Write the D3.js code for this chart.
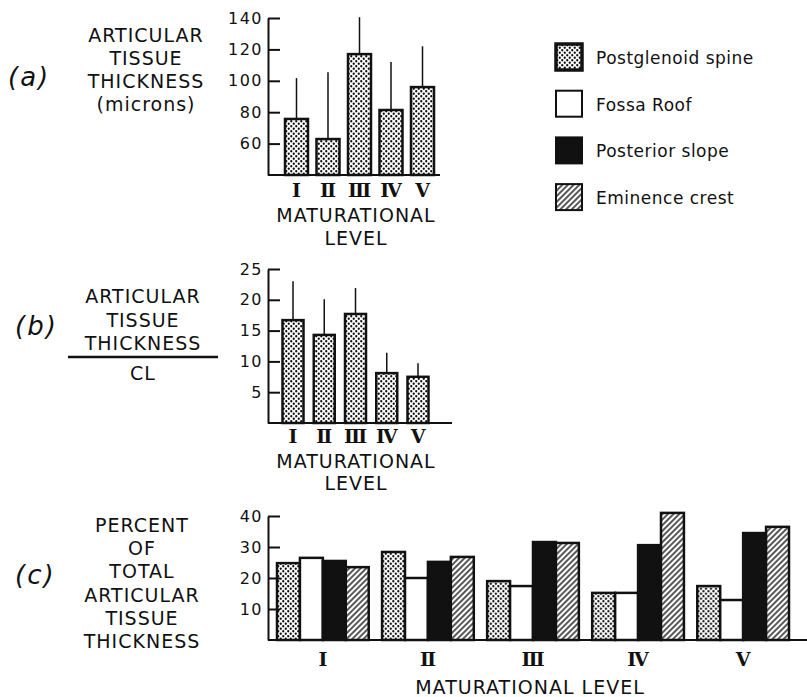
<!DOCTYPE html>
<html>
<head>
<meta charset="utf-8">
<script src="https://cdn.jsdelivr.net/npm/d3@7"></script>
<style>
body { margin: 0; background: #fff; }
text { font-family: "DejaVu Sans", sans-serif; fill: #111; }
</style>
</head>
<body>
<script>
// maturational levels
var levels = ["I", "II", "III", "IV", "V"];
var levelText = ["\u2160", "\u2161", "\u2162", "\u2163", "\u2164"];

// (a) articular tissue thickness, microns
var thickMean = [75.7, 62.9, 117, 81.4, 96];
var thickSD = [26, 42.5, 23.5, 30.5, 26];
var thickTicks = [60, 80, 100, 120, 140];

// (b) thickness / CL
var ratioMean = [16.7, 14.3, 17.7, 8.1, 7.5];
var ratioSD = [6.3, 5.8, 4.2, 3.3, 2.2];
var ratioTicks = [5, 10, 15, 20, 25];

// (c) percent of total thickness, by site
var sites = ["Postglenoid spine", "Fossa Roof", "Posterior slope", "Eminence crest"];
var pctPostglenoid = [24.8, 28.4, 19, 15.2, 17.4];
var pctFossa = [26.5, 20, 17.4, 15.2, 12.9];
var pctPosterior = [25.5, 25.2, 31.6, 30.6, 34.5];
var pctEminence = [23.5, 26.8, 31.3, 41, 36.5];
var pctTicks = [10, 20, 30, 40];

var labelA = ["ARTICULAR", "TISSUE", "THICKNESS", "(microns)"];
var labelB = ["ARTICULAR", "TISSUE", "THICKNESS"];
var labelC = ["PERCENT", "OF", "TOTAL", "ARTICULAR", "TISSUE", "THICKNESS"];

var ink = "#111";
var axisX = 268;

var svg = d3.select("body").append("svg")
    .attr("width", 807)
    .attr("height", 697);

var defs = svg.append("defs");
var dots = defs.append("pattern")
    .attr("id", "dots")
    .attr("patternUnits", "userSpaceOnUse")
    .attr("width", 5).attr("height", 5);
dots.append("rect").attr("width", 5).attr("height", 5).attr("fill", "#fff");
dots.append("circle").attr("cx", 1.25).attr("cy", 1.25).attr("r", 1.15).attr("fill", ink);
dots.append("circle").attr("cx", 3.75).attr("cy", 3.75).attr("r", 1.15).attr("fill", ink);

var hatch = defs.append("pattern")
    .attr("id", "hatch")
    .attr("patternUnits", "userSpaceOnUse")
    .attr("width", 4).attr("height", 4)
    .attr("patternTransform", "rotate(45)");
hatch.append("rect").attr("width", 4).attr("height", 4).attr("fill", "#fff");
hatch.append("line").attr("x1", 1).attr("y1", 0).attr("x2", 1).attr("y2", 4)
    .attr("stroke", ink).attr("stroke-width", 1.4);

var siteFill = ["url(#dots)", "#fff", ink, "url(#hatch)"];

function styleAxis(g) {
  g.selectAll("path.domain").attr("stroke", ink).attr("stroke-width", 2);
  g.selectAll(".tick line").attr("stroke", ink).attr("stroke-width", 2);
  g.selectAll(".tick text")
      .style("font-family", "DejaVu Sans")
      .style("font-size", "16px")
      .style("letter-spacing", "1.5px")
      .attr("fill", ink);
}

function yAxis(y, ticks) {
  var g = svg.append("g").attr("transform", "translate(" + axisX + ",0)")
      .call(d3.axisLeft(y).tickValues(ticks).tickSize(-12).tickSizeOuter(0).tickPadding(5));
  styleAxis(g);
}

function xAxis(x, baseY, xEnd, labelY) {
  var g = svg.append("g").attr("transform", "translate(0," + baseY + ")")
      .call(d3.axisBottom(x).tickSize(0).tickFormat(function(d, i) { return levelText[i]; }));
  g.select("path.domain").attr("d", "M" + axisX + ",0H" + xEnd);
  styleAxis(g);
  g.selectAll(".tick text")
      .attr("y", labelY).attr("dy", 0)
      .style("font-family", "DejaVu Serif")
      .style("font-size", "19px")
      .style("font-weight", "bold")
      .style("letter-spacing", "0px");
}

function stack(lines, cx, y0, step) {
  for (var i = 0; i < lines.length; i++) {
    svg.append("text")
        .attr("x", cx).attr("y", y0 + i * step)
        .attr("text-anchor", "middle")
        .style("font-size", "19px")
        .style("letter-spacing", "1px")
        .text(lines[i]);
  }
}

function panelTag(t, x, y) {
  svg.append("text").attr("x", x).attr("y", y)
      .style("font-size", "26px")
      .style("font-style", "italic")
      .style("letter-spacing", "2px")
      .text(t);
}

function singleBars(x, y, mean, sd) {
  var g = svg.append("g");
  g.selectAll(".err")
      .data(levels)
    .enter().append("line")
      .attr("x1", function(d) { return x(d) + x.bandwidth() / 2; })
      .attr("x2", function(d) { return x(d) + x.bandwidth() / 2; })
      .attr("y1", function(d, i) { return y(mean[i]); })
      .attr("y2", function(d, i) { return y(mean[i] + sd[i]); })
      .attr("stroke", ink)
      .attr("stroke-width", 1.5);
  g.selectAll(".bar")
      .data(levels)
    .enter().append("rect")
      .attr("x", function(d) { return x(d); })
      .attr("y", function(d, i) { return y(mean[i]); })
      .attr("width", x.bandwidth())
      .attr("height", function(d, i) { return y.range()[0] - y(mean[i]); })
      .attr("fill", "url(#dots)")
      .attr("stroke", ink)
      .attr("stroke-width", 2.5);
}

// ---- (a)
var xa = d3.scaleBand().domain(levels).range([285, 434]).paddingInner(0.27);
var ya = d3.scaleLinear().domain([40, 140]).range([175, 18]);
singleBars(xa, ya, thickMean, thickSD);
yAxis(ya, thickTicks);
xAxis(xa, 175, 440, 22);
stack(labelA, 146, 42, 23);
panelTag("(a)", 8, 86);
stack(["MATURATIONAL", "LEVEL"], 356, 222, 23);

// ---- (b)
var xb = d3.scaleBand().domain(levels).range([282.5, 428.5]).paddingInner(0.328);
var yb = d3.scaleLinear().domain([0, 25]).range([423, 269]);
singleBars(xb, yb, ratioMean, ratioSD);
yAxis(yb, ratioTicks);
xAxis(xb, 423, 452, 20);
stack(labelB, 143, 303, 23.5);
svg.append("line").attr("x1", 68).attr("x2", 218).attr("y1", 357).attr("y2", 357)
    .attr("stroke", ink).attr("stroke-width", 2.5);
stack(["CL"], 143, 380, 0);
panelTag("(b)", 15, 335);
stack(["MATURATIONAL", "LEVEL"], 356, 468, 22);

// ---- (c)
var pct = [pctPostglenoid, pctFossa, pctPosterior, pctEminence];
var xc = d3.scaleBand().domain(levels).range([277, 789]).paddingInner(0.127);
var xc1 = d3.scaleBand().domain(sites).range([0, xc.bandwidth()]);
var yc = d3.scaleLinear().domain([0, 40]).range([640, 516]);

var groups = svg.selectAll(".grp")
    .data(levels)
  .enter().append("g")
    .attr("transform", function(d) { return "translate(" + xc(d) + ",0)"; });
groups.selectAll("rect")
    .data(function(d, i) { return sites.map(function(s, j) { return {site: s, j: j, v: pct[j][i]}; }); })
  .enter().append("rect")
    .attr("x", function(d) { return xc1(d.site); })
    .attr("y", function(d) { return yc(d.v); })
    .attr("width", xc1.bandwidth())
    .attr("height", function(d) { return yc(0) - yc(d.v); })
    .attr("fill", function(d) { return siteFill[d.j]; })
    .attr("stroke", ink)
    .attr("stroke-width", 2.5);
yAxis(yc, pctTicks);
xAxis(xc, 640, 807, 26);
stack(labelC, 142, 532, 23.2);
panelTag("(c)", 15, 584);
stack(["MATURATIONAL  LEVEL"], 530, 694, 0);

// ---- legend
var legend = svg.selectAll(".leg")
    .data(sites)
  .enter().append("g")
    .attr("transform", function(d, i) { return "translate(556," + (44 + i * 46.7) + ")"; });
legend.append("rect")
    .attr("width", 26).attr("height", 26)
    .attr("fill", function(d, i) { return siteFill[i]; })
    .attr("stroke", ink)
    .attr("stroke-width", function(d, i) { return i == 0 ? 3.5 : 2; });
legend.append("text")
    .attr("x", 40).attr("y", 20)
    .style("font-size", "17px")
    .style("letter-spacing", "0.5px")
    .text(function(d) { return d; });
</script>
</body>
</html>
